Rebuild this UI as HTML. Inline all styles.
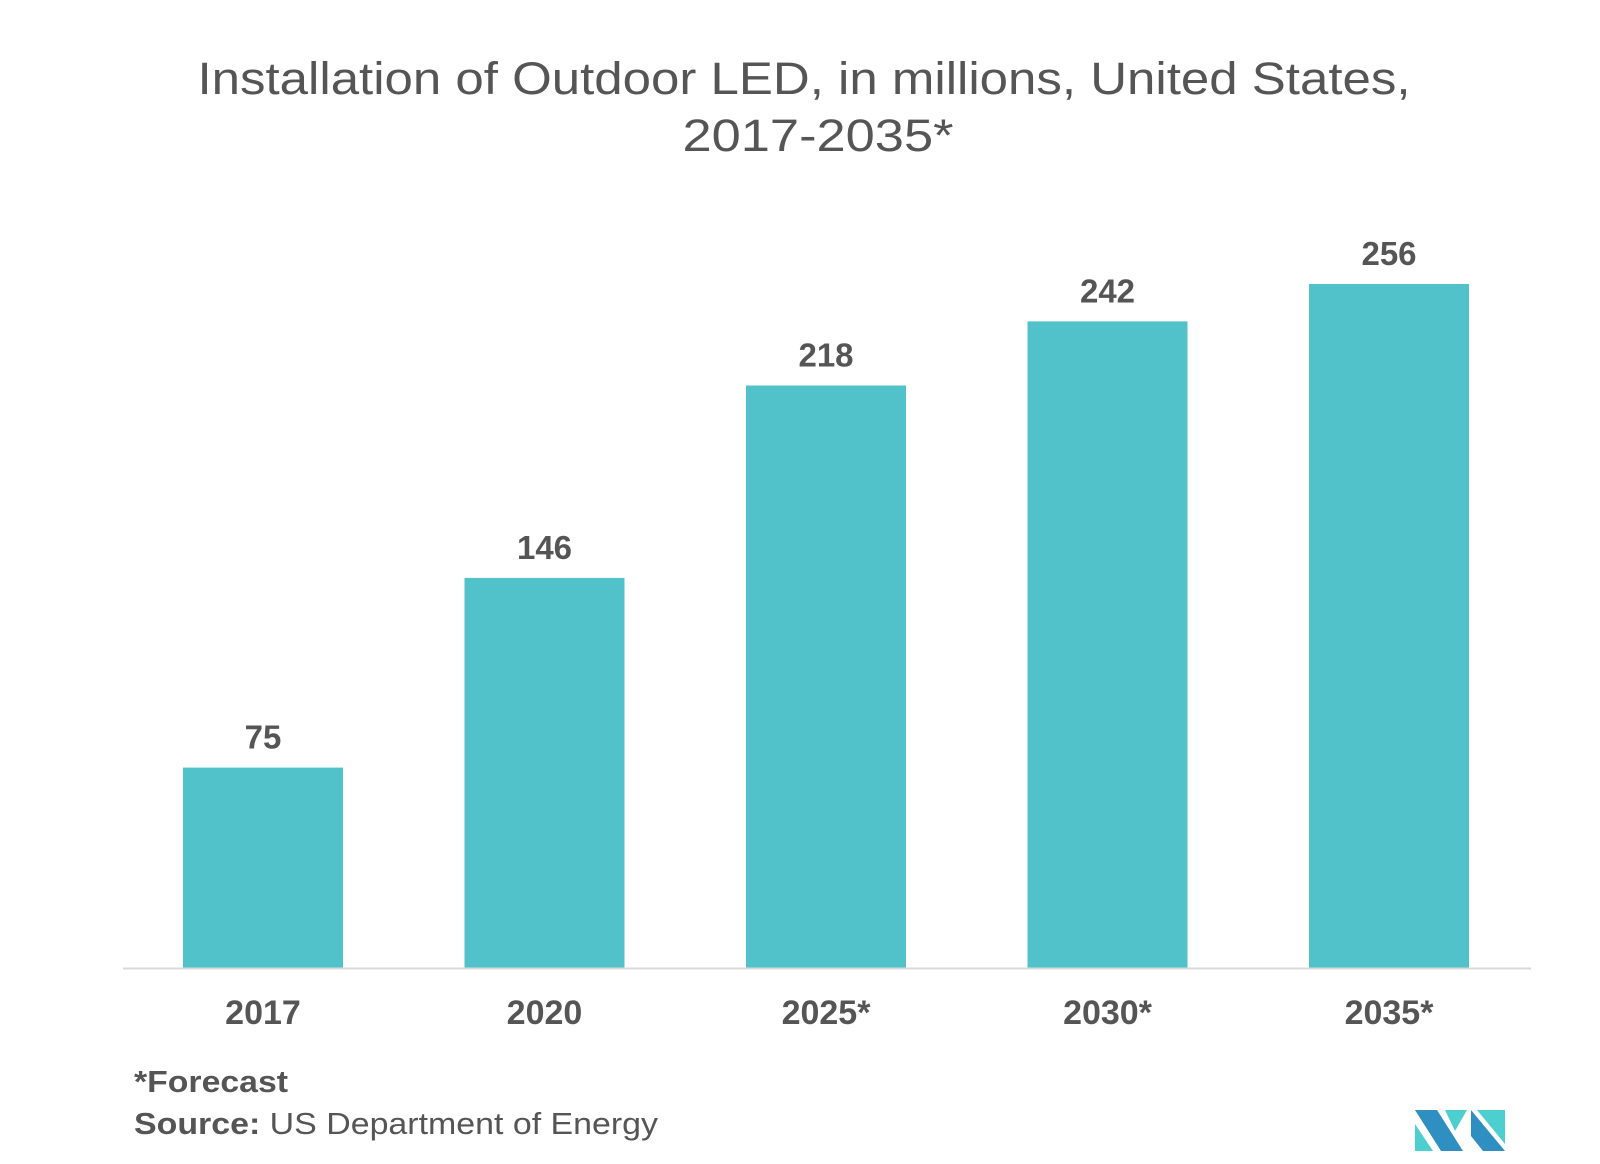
<!DOCTYPE html>
<html><head><meta charset="utf-8"><style>
body{margin:0;background:#fff;}
svg{display:block;font-family:"Liberation Sans",sans-serif;}
</style></head><body>
<svg id="chart" width="1600" height="1164" viewBox="0 0 1600 1164">
<text x="804" y="94" text-anchor="middle" font-size="45" fill="#555" textLength="1213" lengthAdjust="spacingAndGlyphs">Installation of Outdoor LED, in millions, United States,</text>
<text x="818" y="151" text-anchor="middle" font-size="45" fill="#555" textLength="271" lengthAdjust="spacingAndGlyphs">2017-2035*</text>
<g id="bars"></g>
<line x1="123" y1="968.5" x2="1531" y2="968.5" stroke="#d9d9d9" stroke-width="2"/>
<text x="134" y="1092" font-size="31" font-weight="bold" fill="#555" textLength="154" lengthAdjust="spacingAndGlyphs">*Forecast</text>
<text x="134" y="1134" font-size="31" fill="#555" textLength="524" lengthAdjust="spacingAndGlyphs"><tspan font-weight="bold">Source:</tspan> US Department of Energy</text>
<g transform="translate(-7,0)">
<polygon points="1422,1110 1444,1110 1470,1151 1448,1151" fill="#2e8fc0"/>
<polygon points="1422,1124 1422,1151 1440,1151" fill="#4ecfcf"/>
<polygon points="1452,1110 1474,1110 1462,1131" fill="#4ecfcf"/>
<polygon points="1478,1110 1512,1151 1490,1151 1478,1136" fill="#2e8fc0"/>
<polygon points="1484,1110 1512,1110 1512,1144" fill="#4ecfcf"/>
</g>
</svg>
<script>
const categories = ["2017","2020","2025*","2030*","2035*"];
const values = [75,146,218,242,256];
const valueLabels = ["75","146","218","242","256"];
const NS="http://www.w3.org/2000/svg";
const baseY=968, pxPerUnit=2.672, firstCenter=263, step=281.5, barW=160;
const xPos=i=>firstCenter+i*step;
const yPos=v=>baseY-v*pxPerUnit;
const g=document.getElementById('bars');
categories.forEach((c,i)=>{
  const r=document.createElementNS(NS,'rect');
  r.setAttribute('x',xPos(i)-barW/2);
  r.setAttribute('y',yPos(values[i]));
  r.setAttribute('width',barW);
  r.setAttribute('height',baseY-yPos(values[i]));
  r.setAttribute('fill','#51c2ca');
  
  
  g.appendChild(r);
  const t=document.createElementNS(NS,'text');
  t.setAttribute('x',xPos(i));
  t.setAttribute('y',yPos(values[i])-19);
  t.setAttribute('text-anchor','middle');
  t.setAttribute('font-size','33');
  t.setAttribute('font-weight','bold');
  t.setAttribute('fill','#555');
  t.textContent=valueLabels[i];
  
  
  g.appendChild(t);
  const l=document.createElementNS(NS,'text');
  l.setAttribute('x',xPos(i));
  l.setAttribute('y',1024);
  l.setAttribute('text-anchor','middle');
  l.setAttribute('font-size','34');
  l.setAttribute('font-weight','bold');
  l.setAttribute('fill','#555');
  l.textContent=c;
  
  
  g.appendChild(l);
});
</script>
</body></html>
